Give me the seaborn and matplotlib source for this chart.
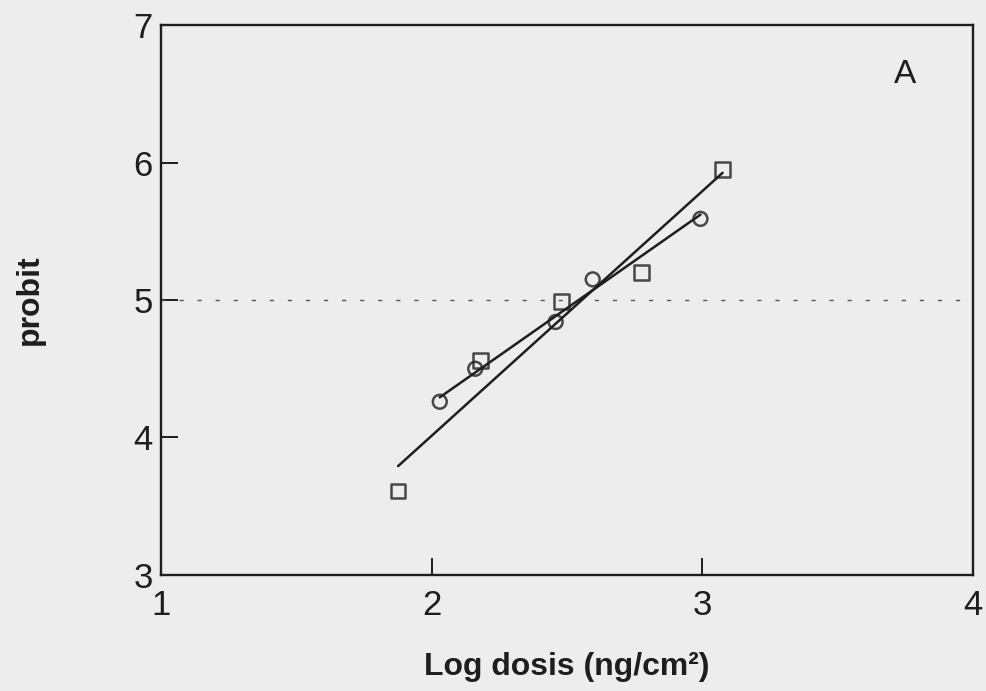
import numpy as np
import pandas as pd
import matplotlib
matplotlib.use("Agg")
import matplotlib.pyplot as plt
import seaborn as sns

# Probit response vs. log dose, two series with fitted regression lines
sq_logdose = [1.876, 2.181, 2.479, 2.776, 3.075]
sq_probit = [3.61, 4.56, 4.99, 5.20, 5.95]
ci_logdose = [2.030, 2.161, 2.458, 2.595, 2.993]
ci_probit = [4.26, 4.50, 4.84, 5.15, 5.59]

x_ticks = [1, 2, 3, 4]
y_ticks = [3, 4, 5, 6, 7]
reference_probit = 5

sns.set_style("ticks")
plt.rcParams["font.family"] = ["Liberation Sans", "DejaVu Sans"]

bg = "#ededed"
ink = "#1e1e1e"

fig = plt.figure(figsize=(9.86, 6.91), dpi=100, facecolor=bg)
ax = fig.add_axes([0.1633, 0.1679, 0.8235, 0.7959])
ax.set_facecolor(bg)

df_sq = pd.DataFrame({"x": sq_logdose, "y": sq_probit})
df_ci = pd.DataFrame({"x": ci_logdose, "y": ci_probit})

ax.axhline(reference_probit, color="#555555", lw=1.0, dashes=(3, 10), zorder=1)

sns.regplot(data=df_sq, x="x", y="y", ax=ax, ci=None, truncate=True,
            marker="s",
            scatter_kws=dict(s=110, facecolors="none", edgecolors=ink,
                             linewidths=1.8, zorder=3),
            line_kws=dict(color=ink, lw=1.8, zorder=2))
sns.regplot(data=df_ci, x="x", y="y", ax=ax, ci=None, truncate=True,
            marker="o",
            scatter_kws=dict(s=100, facecolors="none", edgecolors=ink,
                             linewidths=1.8, zorder=3),
            line_kws=dict(color=ink, lw=1.8, zorder=2))

ax.set_xlim(1, 4)
ax.set_ylim(3, 7)
ax.set_xticks(x_ticks)
ax.set_yticks(y_ticks)
ax.set_xticklabels([str(v) for v in x_ticks])
ax.set_yticklabels([str(v) for v in y_ticks])

ax.tick_params(axis="both", direction="in", length=12, width=1.4, color=ink,
               labelsize=25, labelcolor=ink)
ax.tick_params(axis="x", pad=10)
ax.tick_params(axis="y", pad=6)

for side in ["left", "right", "top", "bottom"]:
    ax.spines[side].set_visible(True)
    ax.spines[side].set_linewidth(1.7)
    ax.spines[side].set_color(ink)

ax.set_xlabel("Log dosis (ng/cm²)", fontsize=23, fontweight="bold",
              color=ink, labelpad=22)
ax.set_ylabel("probit", fontsize=23, fontweight="bold", color=ink,
              labelpad=64)

ax.text(0.916, 0.91, "A", transform=ax.transAxes, fontsize=24,
        color=ink, ha="center", va="center")

fig.savefig("out.png", dpi=100, facecolor=bg)
